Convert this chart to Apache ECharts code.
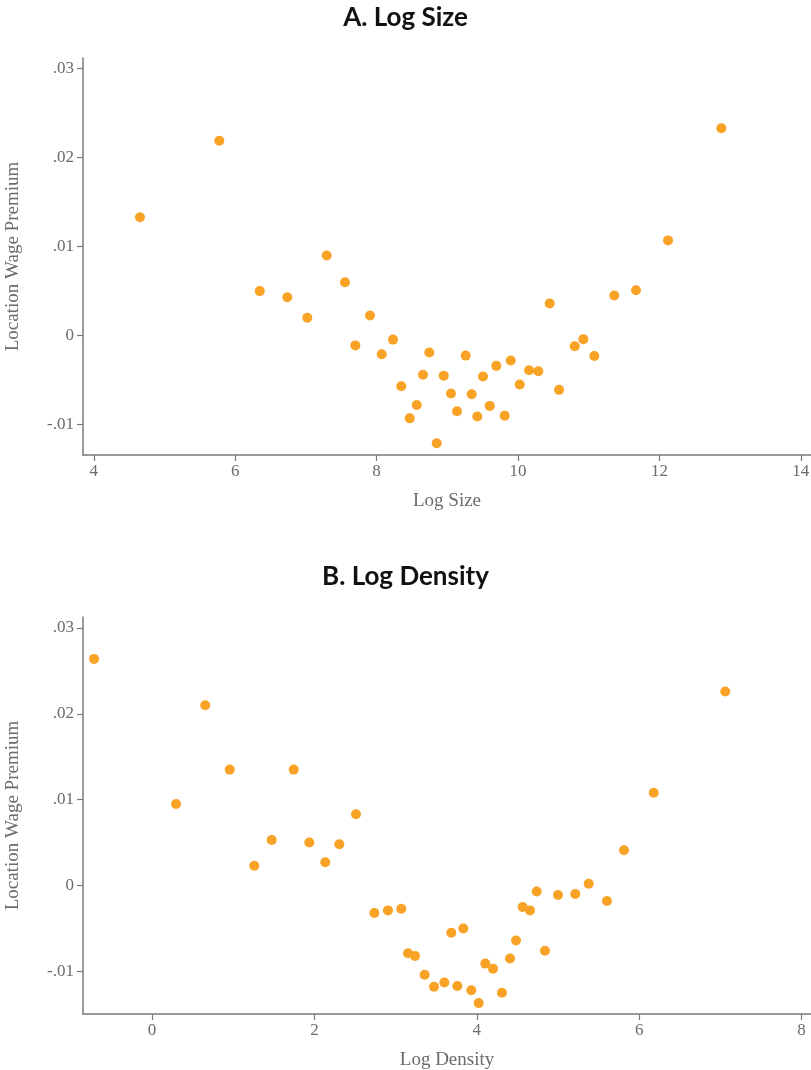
<!DOCTYPE html>
<html>
<head>
<meta charset="utf-8">
<script src="https://cdn.jsdelivr.net/npm/echarts@6/dist/echarts.min.js"></script>
<style>
  html, body { margin: 0; padding: 0; background: #fff; }
  #chart { width: 811px; height: 1070px; }
</style>
</head>
<body>
<div id="chart"></div>
<script>
// Panel A: log establishment size vs. location wage premium
const sizeX = [4.653, 5.775, 6.347, 6.737, 7.02, 7.294, 7.553, 7.699, 7.907, 8.072,
  8.232, 8.349, 8.468, 8.567, 8.656, 8.745, 8.85, 8.949, 9.052, 9.137,
  9.26, 9.345, 9.424, 9.505, 9.60, 9.693, 9.812, 9.897, 10.024, 10.156,
  10.287, 10.448, 10.58, 10.802, 10.924, 11.079, 11.362, 11.669, 12.122, 12.876];
const sizePremium = [0.0133, 0.0219, 0.0050, 0.0043, 0.0020, 0.0090, 0.0060, -0.0011, 0.00225, -0.0021,
  -0.00045, -0.0057, -0.0093, -0.0078, -0.0044, -0.0019, -0.0121, -0.0045, -0.0065, -0.0085,
  -0.00225, -0.0066, -0.0091, -0.0046, -0.0079, -0.0034, -0.0090, -0.0028, -0.0055, -0.0039,
  -0.0040, 0.0036, -0.0061, -0.0012, -0.0004, -0.0023, 0.0045, 0.0051, 0.0107, 0.0233];

// Panel B: log density vs. location wage premium
const densityX = [-0.714, 0.296, 0.656, 0.957, 1.260, 1.474, 1.745, 1.937, 2.134, 2.307,
  2.512, 2.738, 2.906, 3.070, 3.153, 3.239, 3.358, 3.473, 3.600, 3.686,
  3.760, 3.834, 3.932, 4.023, 4.105, 4.200, 4.310, 4.409, 4.483, 4.565,
  4.655, 4.738, 4.840, 5.0, 5.213, 5.378, 5.603, 5.813, 6.179, 7.060];
const densityPremium = [0.0264, 0.0095, 0.0210, 0.0135, 0.0023, 0.0053, 0.0135, 0.0050, 0.0027, 0.0048,
  0.0083, -0.0032, -0.0029, -0.0027, -0.0079, -0.0082, -0.0104, -0.0118, -0.0113, -0.0055,
  -0.0117, -0.0050, -0.0122, -0.0137, -0.0091, -0.0097, -0.0125, -0.0085, -0.0064, -0.0025,
  -0.0029, -0.0007, -0.0076, -0.0011, -0.0010, 0.0002, -0.0018, 0.0041, 0.0108, 0.0226];

// Tick positions and their printed labels
const premiumTicks = [-0.01, 0, 0.01, 0.02, 0.03];
const premiumTickLabels = ['-.01', '0', '.01', '.02', '.03'];
const sizeTicks = [4, 6, 8, 10, 12, 14];
const densityTicks = [0, 2, 4, 6, 8];

const titles = ['A. Log Size', 'B. Log Density'];
const xNames = ['Log Size', 'Log Density'];
const yName = 'Location Wage Premium';

const dotColor = '#f8a326';
const axisColor = '#7a7a7a';
const textColor = '#6b6b6b';
const serif = '"Liberation Serif", "DejaVu Serif", serif';

function zip(xs, ys) { return xs.map((x, i) => [x, ys[i]]); }

function premiumLabel(v) {
  const i = premiumTicks.findIndex(t => Math.abs(t - v) < 1e-9);
  return i >= 0 ? premiumTickLabels[i] : '';
}

function xAxisFor(idx, min, max, ticks) {
  return {
    type: 'value', gridIndex: idx, min: min, max: max,
    name: xNames[idx], nameLocation: 'middle', nameGap: 37,
    nameTextStyle: { fontFamily: serif, fontSize: 19, color: textColor },
    axisLine: { show: true, onZero: false, lineStyle: { color: axisColor, width: 1.5 } },
    axisTick: { show: true, length: 6, customValues: ticks, lineStyle: { color: axisColor, width: 1.2 } },
    axisLabel: { customValues: ticks, margin: 8, fontFamily: serif, fontSize: 17, color: textColor,
      formatter: v => String(v) },
    splitLine: { show: false }
  };
}

function yAxisFor(idx, min, max) {
  return {
    type: 'value', gridIndex: idx, min: min, max: max,
    name: yName, nameLocation: 'middle', nameGap: 60, nameRotate: 90,
    nameTextStyle: { fontFamily: serif, fontSize: 19, color: textColor },
    axisLine: { show: true, onZero: false, lineStyle: { color: axisColor, width: 1.5 } },
    axisTick: { show: true, length: 6, customValues: premiumTicks, lineStyle: { color: axisColor, width: 1.2 } },
    axisLabel: { customValues: premiumTicks, margin: 9, fontFamily: serif, fontSize: 17, color: textColor,
      formatter: premiumLabel },
    splitLine: { show: false }
  };
}

const chart = echarts.init(document.getElementById('chart'), null, { renderer: 'canvas' });

const titleStyle = { fontFamily: 'Lato, "Open Sans", sans-serif', fontWeight: 'bold', fontSize: 26, color: '#111' };

chart.setOption({
  backgroundColor: '#ffffff',
  animation: false,
  title: [
    { text: titles[0], left: 'center', top: 0, textStyle: titleStyle },
    { text: titles[1], left: 'center', top: 559, textStyle: titleStyle }
  ],
  grid: [
    { left: 83, right: 0, top: 58, height: 397, outerBoundsMode: 'none', containLabel: false },
    { left: 83, right: 0, top: 617, height: 397, outerBoundsMode: 'none', containLabel: false }
  ],
  xAxis: [
    xAxisFor(0, 3.847, 14.144, sizeTicks),
    xAxisFor(1, -0.85, 8.116, densityTicks)
  ],
  yAxis: [
    yAxisFor(0, -0.01342, 0.0312),
    yAxisFor(1, -0.01497, 0.03128)
  ],
  series: [
    { type: 'scatter', xAxisIndex: 0, yAxisIndex: 0, data: zip(sizeX, sizePremium),
      symbolSize: 10, itemStyle: { color: dotColor, opacity: 1 } },
    { type: 'scatter', xAxisIndex: 1, yAxisIndex: 1, data: zip(densityX, densityPremium),
      symbolSize: 10, itemStyle: { color: dotColor, opacity: 1 } }
  ]
});
</script>
</body>
</html>
